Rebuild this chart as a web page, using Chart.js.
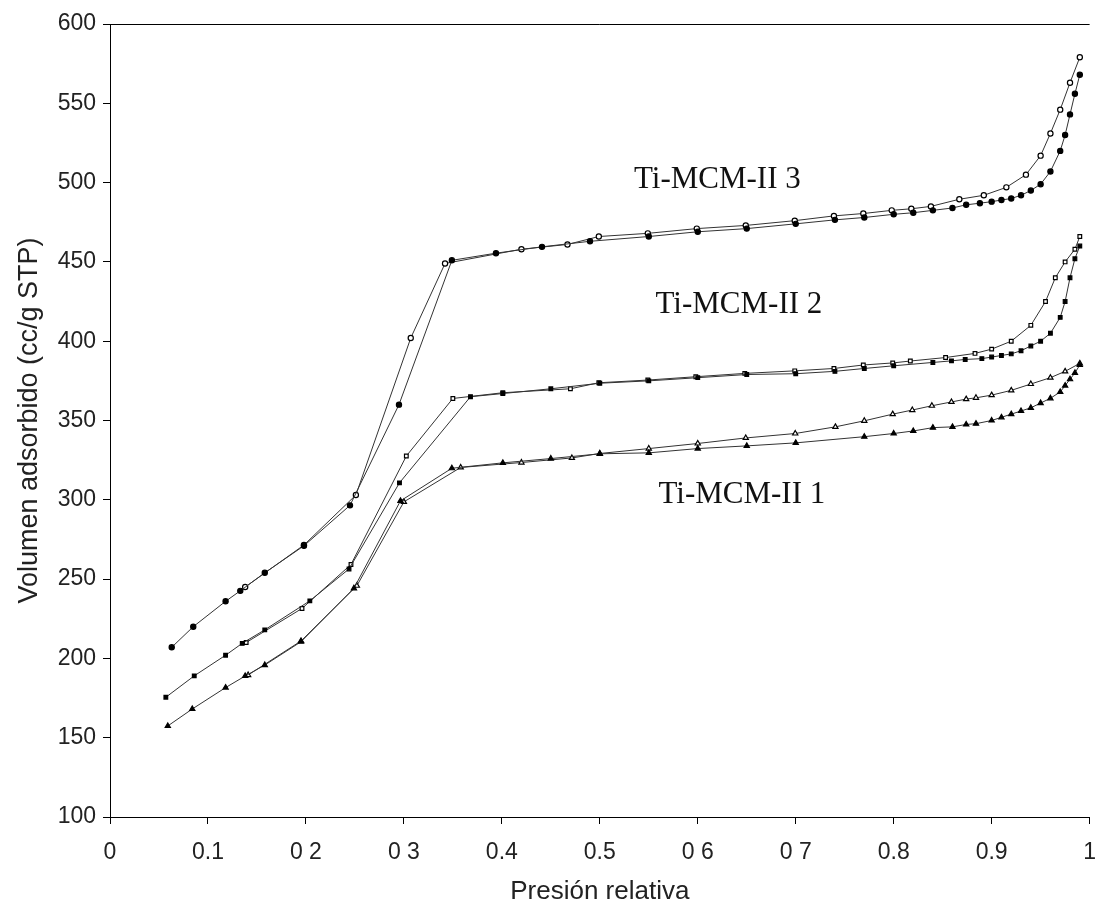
<!DOCTYPE html>
<html>
<head>
<meta charset="utf-8">
<script src="https://cdn.jsdelivr.net/npm/chart.js@4.4.1/dist/chart.umd.min.js"></script>
<style>
  body { margin: 0; background: #fff; }
  #chart { display: block; }
</style>
</head>
<body>
<canvas id="chart" width="1111" height="912"></canvas>
<script>
// tick labels as printed on the scan
var xTickLabels = ['0', '0.1', '0 2', '0 3', '0.4', '0.5', '0 6', '0 7', '0.8', '0.9', '1'];
var sampleNames = ['Ti-MCM-II 3', 'Ti-MCM-II 2', 'Ti-MCM-II 1'];

// Ti-MCM-II 3
var p3Ads = [0.063, 0.085, 0.118, 0.133, 0.158, 0.198, 0.245, 0.295, 0.349, 0.394, 0.441, 0.49, 0.55, 0.6, 0.65, 0.7, 0.74, 0.77, 0.8, 0.82, 0.84, 0.86, 0.874, 0.888, 0.9, 0.91, 0.92, 0.93, 0.94, 0.95, 0.96, 0.97, 0.975, 0.98, 0.985, 0.99];
var v3Ads = [207, 220, 236, 242.6, 254, 271, 296.5, 360, 451, 455.5, 459.5, 463, 466, 469, 471, 474, 476.5, 478, 480, 481, 482.5, 484, 486, 487, 488, 489, 490, 492, 495, 499, 507, 520, 530, 543, 556, 568];
var p3Des = [0.99, 0.98, 0.97, 0.96, 0.95, 0.935, 0.915, 0.892, 0.867, 0.838, 0.818, 0.798, 0.769, 0.739, 0.699, 0.649, 0.599, 0.549, 0.499, 0.467, 0.42, 0.342, 0.307, 0.251, 0.198, 0.138];
var v3Des = [579, 563, 546, 531, 517, 505, 497, 492, 489.5, 485, 483.5, 482.5, 480.5, 479, 476, 473, 471, 468, 466, 461, 458, 449, 402, 303, 271.5, 245];

// Ti-MCM-II 2
var p2Ads = [0.057, 0.086, 0.118, 0.135, 0.158, 0.204, 0.244, 0.2955, 0.368, 0.401, 0.45, 0.5, 0.55, 0.6, 0.65, 0.7, 0.74, 0.77, 0.8, 0.84, 0.859, 0.873, 0.89, 0.9, 0.91, 0.92, 0.93, 0.94, 0.95, 0.96, 0.97, 0.975, 0.98, 0.985, 0.99];
var v2Ads = [175.5, 189, 202, 209.5, 218, 236.3, 256.4, 310.7, 365, 367, 370, 373.5, 375, 377, 379, 379.5, 381, 382.8, 384.5, 386.6, 387.6, 388.5, 389, 390, 391, 392, 394, 397, 400, 405, 415, 425, 440, 452, 460];
var p2Des = [0.99, 0.985, 0.975, 0.965, 0.955, 0.94, 0.92, 0.9, 0.883, 0.853, 0.817, 0.799, 0.769, 0.739, 0.699, 0.648, 0.598, 0.549, 0.499, 0.47, 0.401, 0.35, 0.3025, 0.246, 0.196, 0.139];
var v2Des = [466, 458, 450, 440, 425, 410, 400, 395, 392.3, 389.7, 387.5, 386.3, 385, 382.8, 381.3, 379.7, 377.6, 375.5, 373.8, 370, 367.5, 363.9, 327.6, 259.2, 231.5, 210];

// Ti-MCM-II 1
var p1Ads = [0.059, 0.084, 0.118, 0.138, 0.158, 0.195, 0.249, 0.2965, 0.349, 0.401, 0.45, 0.5, 0.55, 0.6, 0.65, 0.7, 0.77, 0.8, 0.82, 0.84, 0.86, 0.874, 0.884, 0.9, 0.91, 0.92, 0.93, 0.94, 0.95, 0.96, 0.97, 0.975, 0.98, 0.985, 0.99];
var v1Ads = [157.4, 168.1, 181.6, 188.9, 195.8, 210.5, 244.2, 299.3, 319.9, 323.3, 326, 329, 329.6, 332.3, 334, 335.9, 339.8, 341.8, 343.4, 345.5, 346, 347.5, 348, 350, 352, 354, 356, 358, 361, 364, 368, 372, 376, 380, 385];
var p1Des = [0.99, 0.975, 0.96, 0.94, 0.92, 0.9, 0.884, 0.874, 0.859, 0.839, 0.819, 0.799, 0.77, 0.7405, 0.6995, 0.649, 0.6, 0.55, 0.5, 0.4715, 0.42, 0.358, 0.3, 0.252, 0.195, 0.141];
var v1Des = [386, 381, 377, 373, 369, 366, 364.3, 363.5, 361.7, 359.3, 356.6, 354, 349.8, 346, 341.8, 339, 335.5, 332.3, 329.2, 326.4, 323.5, 320.4, 298.7, 245.8, 211, 189.5];

function pts(p, v) {
    return p.map(function (x, i) { return { x: x, y: v[i] }; });
}

function branch(label, p, v, shape, open) {
    return {
        label: label,
        data: pts(p, v),
        showLine: true,
        borderColor: '#333',
        borderWidth: 1,
        pointStyle: shape,
        pointRadius: shape === 'triangle' ? 3 : 2.6,
        pointBorderWidth: 1.2,
        pointBorderColor: '#000',
        pointBackgroundColor: open ? '#fff' : '#000'
    };
}

// where the sample names sit, in axis units
var nameSpots = [[0.62, 502], [0.642, 423], [0.645, 303]];

const curveNames = {
    id: 'curveNames',
    afterDatasetsDraw: function (chart) {
        var c = chart.ctx, xs = chart.scales.x, ys = chart.scales.y;
        c.save();
        c.font = '31px "Liberation Serif", "Times New Roman", serif';
        c.fillStyle = '#111';
        c.textAlign = 'center';
        c.textBaseline = 'middle';
        sampleNames.forEach(function (n, i) {
            c.fillText(n, xs.getPixelForValue(nameSpots[i][0]), ys.getPixelForValue(nameSpots[i][1]));
        });
        c.restore();
    }
};

const ctx = document.getElementById('chart');
var axisFont = { family: '"Liberation Sans", Arial, sans-serif', size: 23 };

new Chart(ctx, {
    type: 'scatter',
    data: {
        datasets: [
            branch('Ti-MCM-II 3 ads', p3Ads, v3Ads, 'circle', false),
            branch('Ti-MCM-II 3 des', p3Des, v3Des, 'circle', true),
            branch('Ti-MCM-II 2 ads', p2Ads, v2Ads, 'rect', false),
            branch('Ti-MCM-II 2 des', p2Des, v2Des, 'rect', true),
            branch('Ti-MCM-II 1 ads', p1Ads, v1Ads, 'triangle', false),
            branch('Ti-MCM-II 1 des', p1Des, v1Des, 'triangle', true)
        ]
    },
    options: {
        responsive: false,
        animation: false,
        layout: { padding: { top: 24, right: 6, left: 0, bottom: 0 } },
        plugins: {
            legend: { display: false },
            tooltip: { enabled: false }
        },
        scales: {
            x: {
                type: 'linear',
                min: 0,
                max: 1,
                ticks: {
                    stepSize: 0.1,
                    color: '#222',
                    font: axisFont,
                    padding: 15,
                    maxRotation: 0,
                    callback: function (val, i) { return xTickLabels[i]; }
                },
                grid: { drawOnChartArea: false, drawTicks: true, tickLength: 7, color: '#000' },
                border: { color: '#000', width: 1 },
                title: {
                    display: true,
                    text: 'Presión relativa',
                    color: '#222',
                    font: { family: '"Liberation Sans", Arial, sans-serif', size: 26 },
                    padding: { top: 2, bottom: 5 }
                },
                afterFit: function (s) { s.height = 95; }
            },
            y: {
                min: 100,
                max: 600,
                ticks: {
                    stepSize: 50,
                    color: '#222',
                    font: axisFont,
                    padding: 7
                },
                grid: { drawOnChartArea: false, drawTicks: true, tickLength: 7, color: '#000' },
                border: { color: '#000', width: 1 },
                title: {
                    display: true,
                    text: 'Volumen adsorbido (cc/g STP)',
                    color: '#222',
                    font: { family: '"Liberation Sans", Arial, sans-serif', size: 27 },
                    padding: { top: 13, bottom: 0 }
                },
                afterFit: function (s) { s.width = 110; }
            }
        }
    },
    plugins: [curveNames, {
        id: 'topLine',
        afterDraw: function (chart) {
            var a = chart.chartArea, c = chart.ctx;
            c.save();
            c.strokeStyle = '#000';
            c.lineWidth = 1;
            c.beginPath();
            c.moveTo(a.left, a.top + 0.5);
            c.lineTo(a.right, a.top + 0.5);
            c.stroke();
            c.restore();
        }
    }]
});
</script>
</body>
</html>
